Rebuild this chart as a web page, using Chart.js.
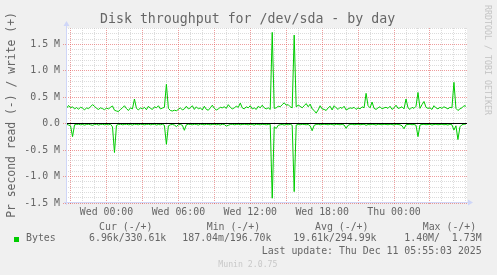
<!DOCTYPE html>
<html><head><meta charset="utf-8">
<script src="https://cdn.jsdelivr.net/npm/chart.js@4"></script>
<style>
html,body{margin:0;padding:0;background:#f0f0f0;}
#wrap{position:relative;width:497px;height:275px;overflow:hidden;background:#f0f0f0;font-family:"DejaVu Sans Mono",monospace;color:#666;}
#c{position:absolute;left:0;top:0;display:block;}
.t{position:absolute;white-space:pre;font-size:9.9px;line-height:12px;}
</style></head><body>
<div id="wrap">
<canvas id="c" width="497" height="275"></canvas>
<div class="t" style="left:100px;top:10.7px;font-size:13.25px;line-height:16px;">Disk throughput for /dev/sda - by day</div>
<div class="t" style="left:-94.2px;top:108px;width:210px;text-align:center;font-size:11.4px;line-height:14px;transform:rotate(-90deg);">Pr second read (-) / write (+)</div>
<div class="t" style="left:427.5px;top:55px;width:120px;text-align:center;font-size:8.3px;line-height:10px;color:#c4c4c4;transform:rotate(90deg);">RRDTOOL / TOBI OETIKER</div>
<div class="t" style="left:99px;top:220.6px;">Cur (-/+)</div>
<div class="t" style="left:206.7px;top:220.6px;">Min (-/+)</div>
<div class="t" style="left:315px;top:220.6px;">Avg (-/+)</div>
<div class="t" style="left:422.7px;top:220.6px;">Max (-/+)</div>
<div style="position:absolute;left:14px;top:237px;width:5px;height:5px;background:#00cc00;"></div>
<div class="t" style="left:26px;top:232.1px;" id="sname"></div>
<div class="t" style="left:89px;top:232.1px;">6.96k/330.61k</div>
<div class="t" style="left:182.3px;top:232.1px;">187.04m/196.70k</div>
<div class="t" style="left:293.3px;top:232.1px;">19.61k/294.99k</div>
<div class="t" style="left:404.3px;top:232.1px;">1.40M/  1.73M</div>
<div class="t" style="left:261.7px;top:244.9px;">Last update: Thu Dec 11 05:55:03 2025</div>
<div class="t" style="left:218.3px;top:259.2px;font-size:8.2px;line-height:10px;color:#c8c8c8;">Munin 2.0.75</div>
</div>
<script>
// sample timing (hours relative to Wed 00:00), 10-minute samples
const startHour = -20/6;
const stepHours = 1/6;
const seriesName = 'Bytes';
// write (+), kB/s
const writeK = [
 290,345,300,320,280,305,275,310,295,260,
 300,285,320,360,330,290,270,300,285,265,
 295,280,310,335,255,240,230,270,300,340,
 285,250,300,280,467,290,260,300,280,310,
 265,330,290,270,320,300,340,280,295,310,
 745,290,250,240,255,245,270,300,260,280,
 330,280,300,340,270,320,280,300,260,330,
 270,255,300,350,290,260,280,310,300,320,
 290,360,310,280,300,330,310,390,300,280,
 320,300,340,280,300,270,330,300,350,300,
 280,300,270,1727,290,300,330,320,360,395,
 350,360,320,300,1676,320,350,330,300,340,
 380,320,370,280,250,200,260,340,280,270,
 250,300,330,260,340,300,270,310,290,330,
 260,280,300,290,310,270,300,280,320,300,
 574,340,300,410,290,270,300,320,280,300,
 310,290,330,270,300,350,290,300,320,280,
 467,300,270,310,290,330,590,290,360,420,
 310,290,300,270,340,300,280,310,290,320,
 300,280,310,300,782,290,250,280,300,340,
 331
];
// read (-), kB/s
const readK = [
 -10,-25,-40,-245,-20,-15,-10,-20,-15,-25,
 -15,-10,-20,-30,-15,-10,-25,-15,-10,-20,
 -15,-20,-10,-60,-545,-30,-15,-10,-20,-15,
 -10,-20,-15,-25,-10,-15,-20,-10,-15,-20,
 -15,-10,-20,-15,-10,-25,-15,-20,-10,-30,
 -390,-40,-20,-15,-25,-55,-20,-15,-30,-125,
 -20,-10,-15,-20,-10,-15,-25,-10,-15,-20,
 -10,-15,-20,-15,-10,-20,-15,-25,-10,-15,
 -45,-30,-15,-10,-20,-15,-10,-20,-15,-10,
 -15,-20,-10,-15,-25,-10,-15,-20,-10,-15,
 -20,-15,-10,-1410,-60,-90,-30,-20,-15,-25,
 -15,-20,-10,-30,-1285,-25,-15,-20,-10,-15,
 -20,-15,-40,-133,-30,-15,-10,-20,-15,-10,
 -15,-20,-10,-15,-25,-10,-15,-20,-10,-25,
 -88,-30,-15,-10,-20,-15,-10,-20,-15,-10,
 -30,-15,-20,-10,-15,-25,-10,-15,-20,-10,
 -15,-20,-10,-15,-25,-10,-15,-20,-40,-95,
 -20,-15,-10,-20,-15,-30,-245,-25,-15,-10,
 -20,-15,-10,-25,-15,-10,-20,-15,-10,-20,
 -15,-25,-10,-20,-120,-40,-300,-60,-20,-10,
 -7
];
const xTickHours = [0, 6, 12, 18, 24];
const xTickLabels = ['Wed 00:00', 'Wed 06:00', 'Wed 12:00', 'Wed 18:00', 'Thu 00:00'];
const yTickValuesK = [-1500, -1000, -500, 0, 500, 1000, 1500];
const yTickLabels = ['-1.5 M', '-1.0 M', '-0.5 M', '0.0', '0.5 M', '1.0 M', '1.5 M'];
const yMinK = -1500, yMaxK = 1810, yGridStepK = 100;
const xMinH = -3.38, xMaxH = 30.09;

document.getElementById('sname').textContent = seriesName;

const GRID = 'rgba(192,192,192,0.56)';
const MGRID = 'rgba(224,80,80,0.56)';
const AXIS = '#CFD6F8';
const GREEN = '#00cc00';

const toPts = arr => arr.map((v, i) => ({x: startHour + i * stepHours, y: v}));

const decor = {
  id: 'decor',
  beforeDraw(chart) {
    const {ctx, chartArea: a} = chart;
    ctx.save();
    ctx.fillStyle = '#ffffff';
    ctx.fillRect(a.left, a.top, a.right - a.left, a.bottom - a.top);
    ctx.restore();
  },
  afterDatasetsDraw(chart) {
    const {ctx, chartArea: a, scales: {y}} = chart;
    const y0 = Math.floor(y.getPixelForValue(0)) + 0.5;
    ctx.save();
    ctx.lineWidth = 1;
    ctx.strokeStyle = '#000';
    ctx.beginPath(); ctx.moveTo(a.left, y0); ctx.lineTo(a.right, y0); ctx.stroke();
    ctx.strokeStyle = AXIS;
    const xl = a.left + 0.5, yb = a.bottom - 0.5;
    ctx.beginPath(); ctx.moveTo(xl, a.bottom + 2); ctx.lineTo(xl, a.top - 3); ctx.stroke();
    ctx.beginPath(); ctx.moveTo(a.left - 2, yb); ctx.lineTo(a.right + 2, yb); ctx.stroke();
    ctx.fillStyle = AXIS;
    ctx.beginPath(); ctx.moveTo(xl - 3, a.top - 2); ctx.lineTo(xl + 3, a.top - 2); ctx.lineTo(xl, a.top - 7); ctx.closePath(); ctx.fill();
    ctx.beginPath(); ctx.moveTo(a.right + 1, yb - 3); ctx.lineTo(a.right + 1, yb + 3); ctx.lineTo(a.right + 6, yb); ctx.closePath(); ctx.fill();
    ctx.restore();
  }
};

const tickFont = {family: 'DejaVu Sans Mono', size: 9.9};

new Chart(document.getElementById('c'), {
  type: 'line',
  data: {
    datasets: [
      {label: seriesName + ' read', data: toPts(readK), borderColor: GREEN, borderWidth: 1, pointRadius: 0, tension: 0, fill: false},
      {label: seriesName + ' write', data: toPts(writeK), borderColor: GREEN, borderWidth: 1, pointRadius: 0, tension: 0, fill: false}
    ]
  },
  options: {
    responsive: false,
    animation: false,
    devicePixelRatio: 1,
    layout: {padding: {left: 0, right: 30, top: 28, bottom: 50}},
    plugins: {legend: {display: false}, tooltip: {enabled: false}},
    scales: {
      x: {
        type: 'linear',
        min: xMinH, max: xMaxH,
        afterFit(s) { s.height = 22; },
        afterBuildTicks(s) {
          const t = [];
          for (let h = Math.ceil(xMinH); h <= xMaxH; h++) t.push({value: h});
          s.ticks = t;
        },
        ticks: {
          autoSkip: false, maxRotation: 0, minRotation: 0,
          padding: 1, color: '#666', font: tickFont,
          callback: v => { const k = xTickHours.indexOf(Math.round(v)); return k >= 0 ? xTickLabels[k] : ''; }
        },
        grid: {
          color: c => { const v = Math.round(c.tick.value); return (v % 3 === 0 && v < 30) ? MGRID : GRID; },
          tickColor: c => { const v = Math.round(c.tick.value); return (v % 3 === 0 && v < 30) ? MGRID : 'rgba(0,0,0,0)'; },
          lineWidth: 1, drawTicks: true, tickLength: 2, tickBorderDash: [1, 1]
        },
        border: {display: false, dash: [1, 1]}
      },
      y: {
        min: yMinK, max: yMaxK,
        afterFit(s) { s.width = 66; },
        afterBuildTicks(s) {
          const t = [];
          for (let v = yMinK; v <= yMaxK; v += yGridStepK) t.push({value: v});
          s.ticks = t;
        },
        ticks: {
          autoSkip: false,
          padding: 3, color: '#666', font: tickFont,
          callback: v => { const k = yTickValuesK.indexOf(Math.round(v)); return k >= 0 ? yTickLabels[k] : ''; }
        },
        grid: {
          color: c => { const v = Math.round(c.tick.value); return v % 500 === 0 ? MGRID : GRID; },
          tickColor: c => { const v = Math.round(c.tick.value); return v % 500 === 0 ? MGRID : 'rgba(0,0,0,0)'; },
          lineWidth: 1, drawTicks: true, tickLength: 3, tickBorderDash: [1, 1]
        },
        border: {display: false, dash: [1, 1]}
      }
    }
  },
  plugins: [decor]
});
</script>
</body></html>
